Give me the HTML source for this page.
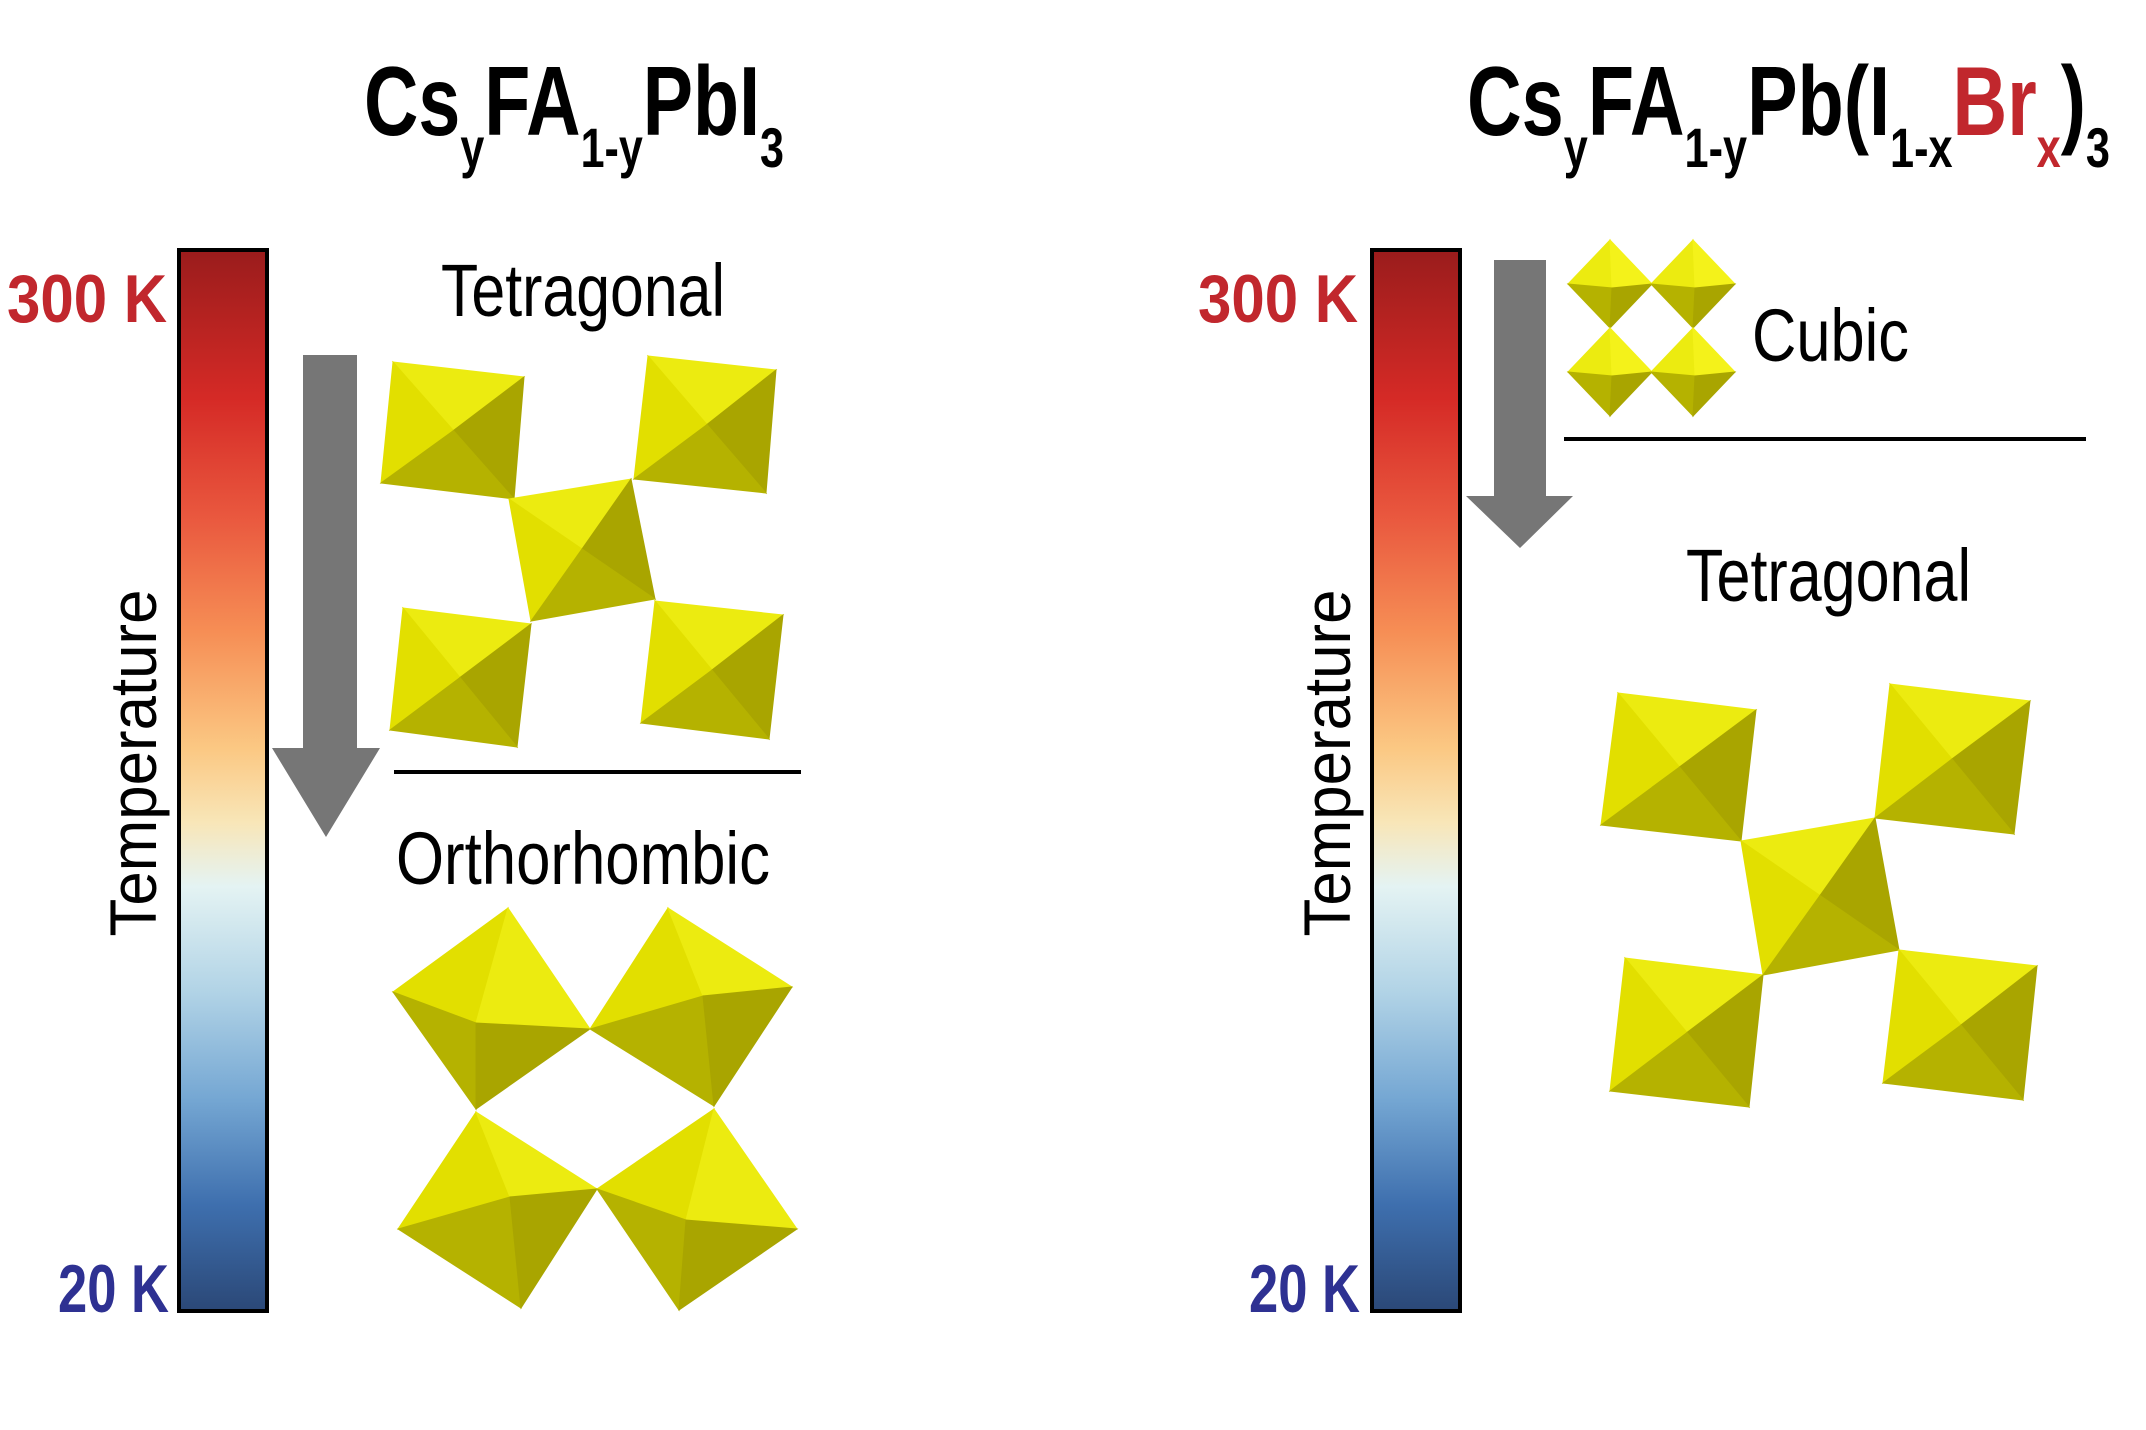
<!DOCTYPE html>
<html><head><meta charset="utf-8"><style>
html,body{margin:0;padding:0;background:#fff}
svg{display:block}
text{font-family:"Liberation Sans",Arial,sans-serif}
</style></head><body>
<svg id="fig" width="2146" height="1430" viewBox="0 0 2146 1430" xmlns="http://www.w3.org/2000/svg">
<defs>
<linearGradient id="tgrad" x1="0" y1="0" x2="0" y2="1">
<stop offset="0" stop-color="#9a1c1c"/>
<stop offset="0.14" stop-color="#d52a26"/>
<stop offset="0.25" stop-color="#e9573e"/>
<stop offset="0.36" stop-color="#f68e55"/>
<stop offset="0.47" stop-color="#fbc883"/>
<stop offset="0.54" stop-color="#f8e6b8"/>
<stop offset="0.60" stop-color="#e4f3f3"/>
<stop offset="0.70" stop-color="#b1d3e6"/>
<stop offset="0.80" stop-color="#75a7d3"/>
<stop offset="0.90" stop-color="#3e6fae"/>
<stop offset="1" stop-color="#2b4877"/>
</linearGradient>
</defs>

<!-- Titles -->
<text x="364" y="135" font-size="98" font-weight="bold" textLength="420" lengthAdjust="spacingAndGlyphs">Cs<tspan font-size="56" dy="32">y</tspan><tspan dy="-32">FA</tspan><tspan font-size="56" dy="32">1-y</tspan><tspan dy="-32">PbI</tspan><tspan font-size="56" dy="32">3</tspan></text>
<text x="1467" y="135" font-size="98" font-weight="bold" textLength="643" lengthAdjust="spacingAndGlyphs">Cs<tspan font-size="56" dy="32">y</tspan><tspan dy="-32">FA</tspan><tspan font-size="56" dy="32">1-y</tspan><tspan dy="-32">Pb(I</tspan><tspan font-size="56" dy="32">1-x</tspan><tspan dy="-32" fill="#c1272d">Br</tspan><tspan font-size="56" dy="32" fill="#c1272d">x</tspan><tspan dy="-32">)</tspan><tspan font-size="56" dy="32">3</tspan></text>

<!-- Left colorbar -->
<rect x="179" y="250" width="88" height="1061" fill="url(#tgrad)" stroke="#000" stroke-width="4"/>
<text x="7" y="322" font-size="68" font-weight="bold" fill="#c1272d" textLength="160" lengthAdjust="spacingAndGlyphs">300 K</text>
<text x="58" y="1312" font-size="68" font-weight="bold" fill="#2e3192" textLength="111" lengthAdjust="spacingAndGlyphs">20 K</text>
<text transform="translate(156,763) rotate(-90)" text-anchor="middle" font-size="66" textLength="347" lengthAdjust="spacingAndGlyphs">Temperature</text>

<!-- Right colorbar -->
<rect x="1372" y="250" width="88" height="1061" fill="url(#tgrad)" stroke="#000" stroke-width="4"/>
<text x="1198" y="322" font-size="68" font-weight="bold" fill="#c1272d" textLength="160" lengthAdjust="spacingAndGlyphs">300 K</text>
<text x="1249" y="1312" font-size="68" font-weight="bold" fill="#2e3192" textLength="111" lengthAdjust="spacingAndGlyphs">20 K</text>
<text transform="translate(1350,763) rotate(-90)" text-anchor="middle" font-size="66" textLength="347" lengthAdjust="spacingAndGlyphs">Temperature</text>

<!-- Arrows -->
<polygon fill="#767676" points="303,355 357,355 357,748 380,748 326,837 272,748 303,748"/>
<polygon fill="#767676" points="1494,260 1546,260 1546,496 1573,496 1520,548 1466,496 1494,496"/>

<!-- Labels & dividers -->
<text x="441" y="316" font-size="74" textLength="284" lengthAdjust="spacingAndGlyphs">Tetragonal</text>
<line x1="394" y1="772" x2="801" y2="772" stroke="#000" stroke-width="4"/>
<text x="396" y="884" font-size="74" textLength="374" lengthAdjust="spacingAndGlyphs">Orthorhombic</text>
<text x="1752" y="361" font-size="74" textLength="157" lengthAdjust="spacingAndGlyphs">Cubic</text>
<line x1="1564" y1="439" x2="2086" y2="439" stroke="#000" stroke-width="4"/>
<text x="1686" y="601" font-size="74" textLength="285" lengthAdjust="spacingAndGlyphs">Tetragonal</text>

<g id="structures"></g>
</svg>
<script>
const LIGHT='#e2df00', LIGHT2='#eceb10', DARK='#a9a500', DARK2='#b5b200';
const tetraLeft=[
 [[393,362],[524,377],[514,499],[381,483]],
 [[648,356],[776,370],[766,493],[634,479]],
 [[509,499],[631,479],[655,599],[531,621]],
 [[403,608],[531,624],[517,747],[390,730]],
 [[655,601],[783,615],[769,739],[641,723]]
];
const tetraRight=[
 [[1618,693],[1756,710],[1741,841],[1601,825]],
 [[1890,684],[2030,701],[2014,834],[1875,818]],
 [[1741,841],[1875,818],[1899,950],[1763,975]],
 [[1625,958],[1763,975],[1749,1107],[1610,1091]],
 [[1899,950],[2037,966],[2023,1100],[1883,1083]]
];
// orthorhombic: top,left,right,bottom,center
const ortho=[
 [[508,908],[393,992],[590,1029],[476,1109],[476,1023]],
 [[668,908],[590,1029],[792,987],[714,1106],[703,996]],
 [[476,1112],[398,1229],[597,1189],[521,1308],[510,1197]],
 [[714,1109],[597,1189],[797,1229],[679,1310],[686,1220]]
];
const cubicCenters=[[1610,284],[1693,284],[1610,372],[1693,372]];
const g=document.getElementById('structures');
const NS='http://www.w3.org/2000/svg';
function poly(pts,fill,name){
 const p=document.createElementNS(NS,'polygon');
 p.setAttribute('points',pts.map(a=>a.join(',')).join(' '));
 p.setAttribute('fill',fill);
 p.setAttribute('stroke',fill);
 p.setAttribute('stroke-width','1');
 
 
 g.appendChild(p);
}
function square(q,name){
 const c=[(q[0][0]+q[2][0])/2,(q[0][1]+q[2][1])/2];
 poly([q[0],q[1],c],LIGHT2,name+'-top-face');
 poly([q[3],q[0],c],LIGHT,name+'-left-face');
 poly([q[1],q[2],c],DARK,name+'-right-face');
 poly([q[2],q[3],c],DARK2,name+'-bottom-face');
}
tetraLeft.forEach((q,i)=>square(q,'left-tetragonal-octahedron-'+i));
tetraRight.forEach((q,i)=>square(q,'right-tetragonal-octahedron-'+i));
ortho.forEach((o,i)=>{
 const [t,l,r,b,c]=o;
 const n='orthorhombic-octahedron-'+i;
 poly([t,l,c],LIGHT,n+'-upper-left-face');
 poly([t,r,c],LIGHT2,n+'-upper-right-face');
 poly([l,b,c],DARK2,n+'-lower-left-face');
 poly([r,b,c],DARK,n+'-lower-right-face');
});
cubicCenters.forEach((c,i)=>{
 const hw=42,hh=44,n='cubic-octahedron-'+i;
 const t=[c[0],c[1]-hh],l=[c[0]-hw,c[1]],r=[c[0]+hw,c[1]],b=[c[0],c[1]+hh],m=[c[0]+2,c[1]+4];
 poly([t,l,m],LIGHT2,n+'-upper-left-face');
 poly([t,r,m],'#f4f21a',n+'-upper-right-face');
 poly([l,b,m],DARK2,n+'-lower-left-face');
 poly([r,b,m],DARK,n+'-lower-right-face');
});
</script>
</body></html>
